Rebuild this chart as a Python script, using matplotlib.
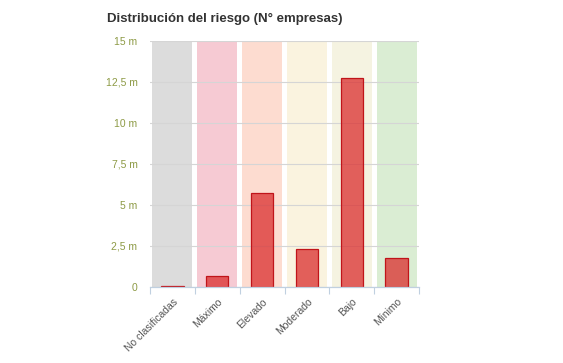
import matplotlib
matplotlib.use("Agg")
import matplotlib.pyplot as plt
from matplotlib.ticker import FixedLocator

categories = ["No clasificadas", "Máximo", "Elevado", "Moderado", "Bajo", "Mínimo"]
values = [0.06, 0.67, 5.71, 2.34, 12.76, 1.75]
band_colors = ["#dcdcdc", "#f6cad3", "#fddcd0", "#faf3df", "#f5f3e1", "#daedd3"]
y_ticks = [0, 2.5, 5, 7.5, 10, 12.5, 15]
y_labels = ["0", "2,5 m", "5 m", "7,5 m", "10 m", "12,5 m", "15 m"]

plt.rcParams["font.family"] = ["Liberation Sans", "DejaVu Sans"]

fig = plt.figure(figsize=(5.63, 3.63), dpi=100)
ax = fig.add_axes([0.2664, 0.2094, 0.478, 0.6777])

x = list(range(len(categories)))
for i, c in zip(x, band_colors):
    ax.axvspan(i - 0.445, i + 0.445, color=c, zorder=0, lw=0)

for yt in y_ticks:
    ax.axhline(yt, color="#d5d5d5", lw=0.8, zorder=1)

ax.bar(x, values, width=0.5, color=(0.86, 0.18, 0.18, 0.75),
       edgecolor="#c0141a", linewidth=0.9, zorder=3)

ax.set_xlim(-0.5, len(categories) - 0.5)
ax.set_ylim(0, 15)
ax.set_yticks(y_ticks)
ax.set_yticklabels(y_labels)
ax.tick_params(axis="y", length=0, pad=9, labelsize=7.5, labelcolor="#8d9a45")

ax.set_xticks(x)
ax.set_xticklabels(categories, rotation=45, ha="right", va="top",
                   rotation_mode="anchor", fontsize=7.5, color="#555555")
ax.tick_params(axis="x", which="major", length=0, pad=7)
ax.xaxis.set_minor_locator(FixedLocator([i - 0.5 for i in range(len(categories) + 1)]))
ax.tick_params(axis="x", which="minor", length=5, color="#c0d0e0", width=0.8)

for s in ["top", "right", "left"]:
    ax.spines[s].set_visible(False)
ax.spines["bottom"].set_color("#c0d0e0")
ax.spines["bottom"].set_linewidth(0.9)
ax.spines["bottom"].set_zorder(4)

fig.text(0.19, 0.947, "Distribución del riesgo (N° empresas)", fontsize=9.5,
         fontweight="bold", color="#333333", ha="left", va="center")

fig.savefig("out.png", dpi=100)
